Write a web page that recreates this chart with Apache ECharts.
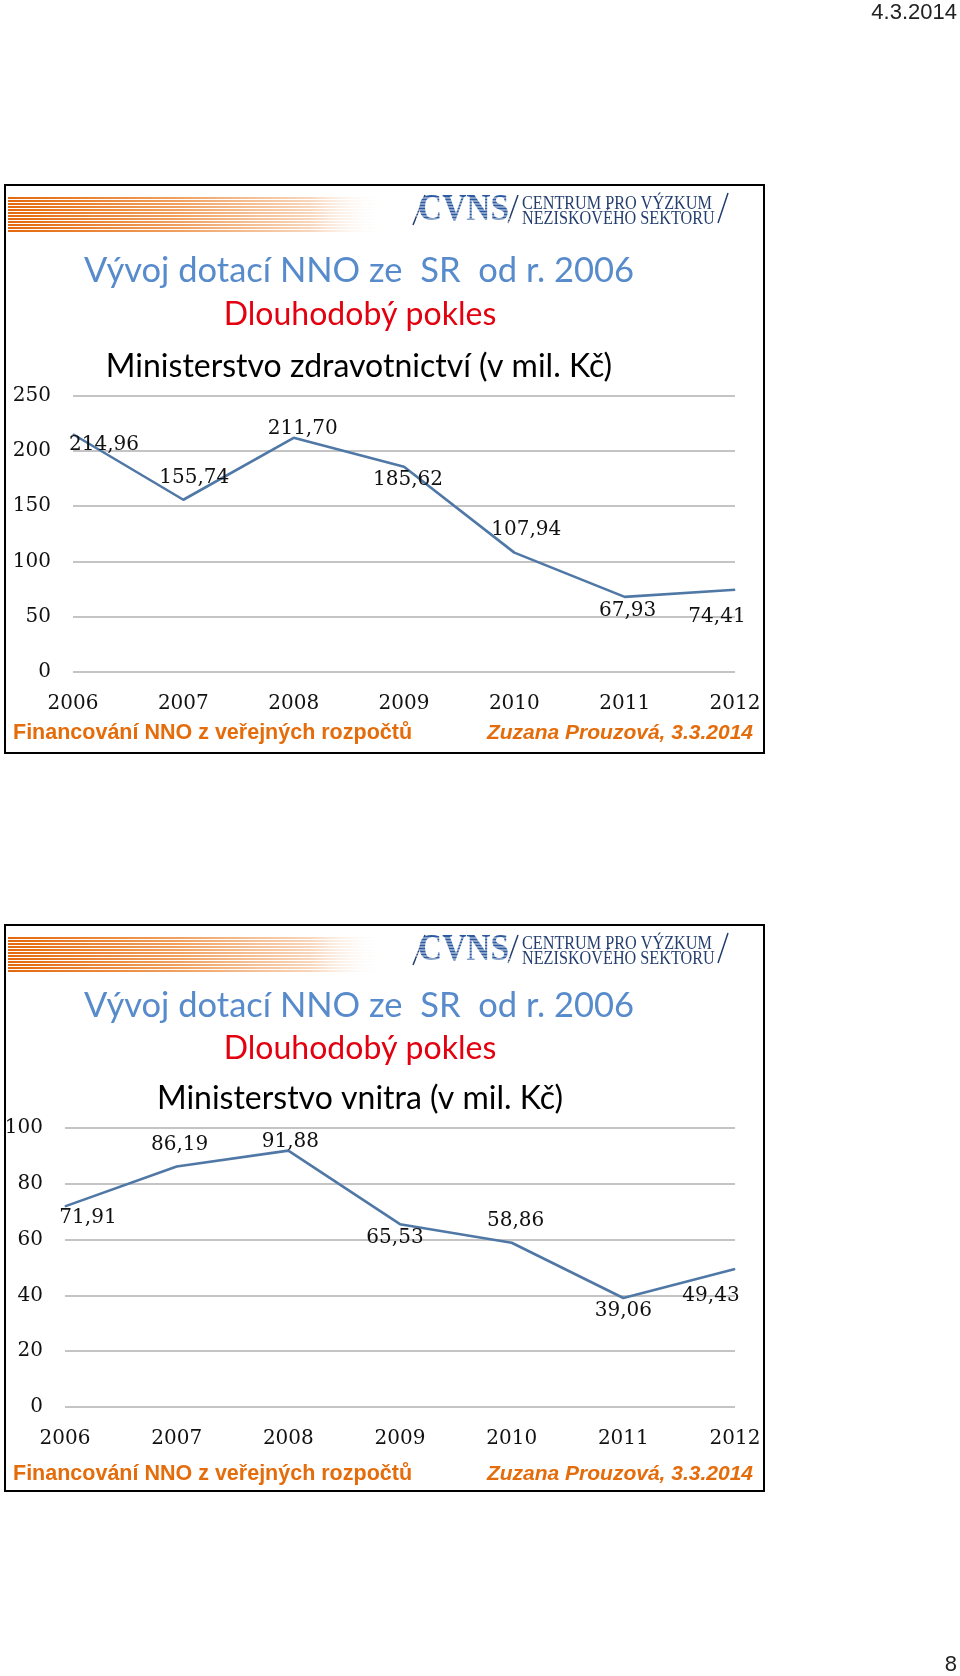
<!DOCTYPE html>
<html><head><meta charset="utf-8">
<script src="https://cdn.jsdelivr.net/npm/echarts@6/dist/echarts.min.js"></script>
<style>html,body{margin:0;padding:0;background:#fff}#c{width:960px;height:1676px}</style>
</head><body><div id="c"></div>
<script>
// ---- data ----
const years = ['2006', '2007', '2008', '2009', '2010', '2011', '2012'];
const zdravotnictvi = [214.96, 155.74, 211.70, 185.62, 107.94, 67.93, 74.41];
const vnitra = [71.91, 86.19, 91.88, 65.53, 58.86, 39.06, 49.43];
const yTicks1 = { min: 0, max: 250, interval: 50 };
const yTicks2 = { min: 0, max: 100, interval: 20 };
// label placement (style only)
const offsets1 = [[31, 11], [11, -22], [9, -9], [4, 13], [12, -23], [3, 14], [-18, 27]];
const offsets2 = [[23, 11], [3, -22], [2, -9], [-5, 14], [4, -22], [0, 13], [-24, 27]];

const LINE = '#5078a6';
const SERIF = "'DejaVu Serif', serif";
const TITLEF = "Lato, 'Open Sans', sans-serif";
const ARIAL = "'Liberation Sans', Arial, sans-serif";
const ORANGE = '#e46c0a';

function buildData(vals, offs) {
  return vals.map((v, i) => ({ value: v, label: { offset: offs[i] } }));
}
const fmt = p => Number(p.value).toFixed(2).replace('.', ',');

function header(y0) {
  const els = [];
  const grad = { type: 'linear', x: 0, y: 0, x2: 1, y2: 0, colorStops: [
    { offset: 0, color: '#e4680c' }, { offset: 0.45, color: '#f0a060' },
    { offset: 0.8, color: '#f8d6bc' }, { offset: 1, color: 'rgba(255,255,255,0)' }] };
  for (let i = 0; i < 12; i++) {
    els.push({ type: 'rect', shape: { x: 8, y: y0 + 12 + i * 3, width: 378, height: 2 }, style: { fill: grad }, silent: true });
  }
  const navy = '#233d6e';
  els.push({ type: 'line', shape: { x1: 425, y1: y0 + 10, x2: 413, y2: y0 + 40 }, style: { stroke: navy, lineWidth: 1.5 } });
  els.push({ type: 'line', shape: { x1: 518, y1: y0 + 10, x2: 508, y2: y0 + 38 }, style: { stroke: navy, lineWidth: 1.5 } });
  els.push({ type: 'line', shape: { x1: 728, y1: y0 + 8, x2: 718, y2: y0 + 38 }, style: { stroke: navy, lineWidth: 1.5 } });
  els.push({ type: 'text', x: 418, y: y0 + 25, scaleX: 0.88, originX: 0, originY: 0, style: { text: 'CVNS', fontFamily: "'Liberation Serif', serif", fontWeight: 'bold', fontSize: 38, fill: '#2c5aa0', align: 'left', verticalAlign: 'middle' } });
  for (let i = 0; i < 9; i++) {
    els.push({ type: 'rect', shape: { x: 416, y: y0 + 12.5 + i * 3, width: 94, height: 1 }, style: { fill: 'rgba(255,255,255,0.85)' }, silent: true, z: 10 });
  }
  els.push({ type: 'text', x: 522, y: y0 + 19.5, scaleX: 0.9, originX: 0, originY: 0, style: { text: 'CENTRUM PRO VÝZKUM', fontFamily: "'Liberation Serif', serif", fontSize: 18, fill: navy, align: 'left', verticalAlign: 'middle' } });
  els.push({ type: 'text', x: 522, y: y0 + 34.5, scaleX: 0.9, originX: 0, originY: 0, style: { text: 'NEZISKOVÉHO SEKTORU', fontFamily: "'Liberation Serif', serif", fontSize: 18, fill: navy, align: 'left', verticalAlign: 'middle' } });
  return els;
}
function txt(x, y, text, opts) {
  return { type: 'text', x: x, y: y, style: Object.assign({ text: text, align: 'center', verticalAlign: 'middle' }, opts) };
}

const graphics = [].concat(
  [{ type: 'rect', shape: { x: 5, y: 185, width: 759, height: 568 }, style: { fill: 'none', stroke: '#000', lineWidth: 2 } },
   { type: 'rect', shape: { x: 5, y: 925, width: 759, height: 566 }, style: { fill: 'none', stroke: '#000', lineWidth: 2 } }],
  header(185), header(925),
  [
    txt(957, 13, '4.3.2014', { fontFamily: ARIAL, fontSize: 22, fill: '#222', align: 'right' }),
    txt(957, 1665, '8', { fontFamily: ARIAL, fontSize: 22, fill: '#222', align: 'right' }),
    // chart 1 titles
    txt(359, 271, 'Vývoj dotací NNO ze  SR  od r. 2006', { fontFamily: TITLEF, fontSize: 34.5, fill: '#588bcb' }),
    txt(360, 315, 'Dlouhodobý pokles', { fontFamily: TITLEF, fontSize: 32, fill: '#e3000f' }),
    txt(359, 367, 'Ministerstvo zdravotnictví (v mil. Kč)', { fontFamily: TITLEF, fontSize: 32, fill: '#000' }),
    txt(13, 733, 'Financování NNO z veřejných rozpočtů', { fontFamily: ARIAL, fontSize: 21.5, fontWeight: 'bold', fill: ORANGE, align: 'left' }),
    txt(753, 733, 'Zuzana Prouzová, 3.3.2014', { fontFamily: ARIAL, fontSize: 21, fontWeight: 'bold', fontStyle: 'italic', fill: ORANGE, align: 'right' }),
    // chart 2 titles
    txt(359, 1006, 'Vývoj dotací NNO ze  SR  od r. 2006', { fontFamily: TITLEF, fontSize: 34.5, fill: '#588bcb' }),
    txt(360, 1049, 'Dlouhodobý pokles', { fontFamily: TITLEF, fontSize: 32, fill: '#e3000f' }),
    txt(360, 1099, 'Ministerstvo vnitra (v mil. Kč)', { fontFamily: TITLEF, fontSize: 32, fill: '#000' }),
    txt(13, 1474, 'Financování NNO z veřejných rozpočtů', { fontFamily: ARIAL, fontSize: 21.5, fontWeight: 'bold', fill: ORANGE, align: 'left' }),
    txt(753, 1474, 'Zuzana Prouzová, 3.3.2014', { fontFamily: ARIAL, fontSize: 21, fontWeight: 'bold', fontStyle: 'italic', fill: ORANGE, align: 'right' })
  ]
);

function xAxis(gi) {
  return { type: 'category', gridIndex: gi, data: years, boundaryGap: false,
    axisLine: { show: false }, axisTick: { show: false },
    axisLabel: { margin: 22, fontFamily: SERIF, fontSize: 20, color: '#111' } };
}
function yAxis(gi, t) {
  return { type: 'value', gridIndex: gi, min: t.min, max: t.max, interval: t.interval,
    axisLine: { show: false }, axisTick: { show: false },
    axisLabel: { margin: 22, fontFamily: SERIF, fontSize: 20, color: '#111' },
    splitLine: { lineStyle: { color: '#c4c4c4', width: 2 } } };
}
function series(gi, vals, offs) {
  return { type: 'line', xAxisIndex: gi, yAxisIndex: gi, data: buildData(vals, offs),
    symbol: 'circle', symbolSize: 1, showSymbol: true,
    lineStyle: { color: LINE, width: 2.6 }, itemStyle: { color: LINE },
    label: { show: true, position: 'inside', formatter: fmt, fontFamily: SERIF, fontSize: 20, color: '#111' },
    emphasis: { disabled: true }, silent: true };
}

const chart = echarts.init(document.getElementById('c'), null, { renderer: 'canvas' });
chart.setOption({
  animation: false,
  backgroundColor: '#fff',
  grid: [
    { left: 73, right: 225, top: 395.5, height: 276.5 },
    { left: 65, right: 225, top: 1128, height: 279 }
  ],
  xAxis: [xAxis(0), xAxis(1)],
  yAxis: [yAxis(0, yTicks1), yAxis(1, yTicks2)],
  series: [series(0, zdravotnictvi, offsets1), series(1, vnitra, offsets2)],
  graphic: { elements: graphics }
});
</script></body></html>
